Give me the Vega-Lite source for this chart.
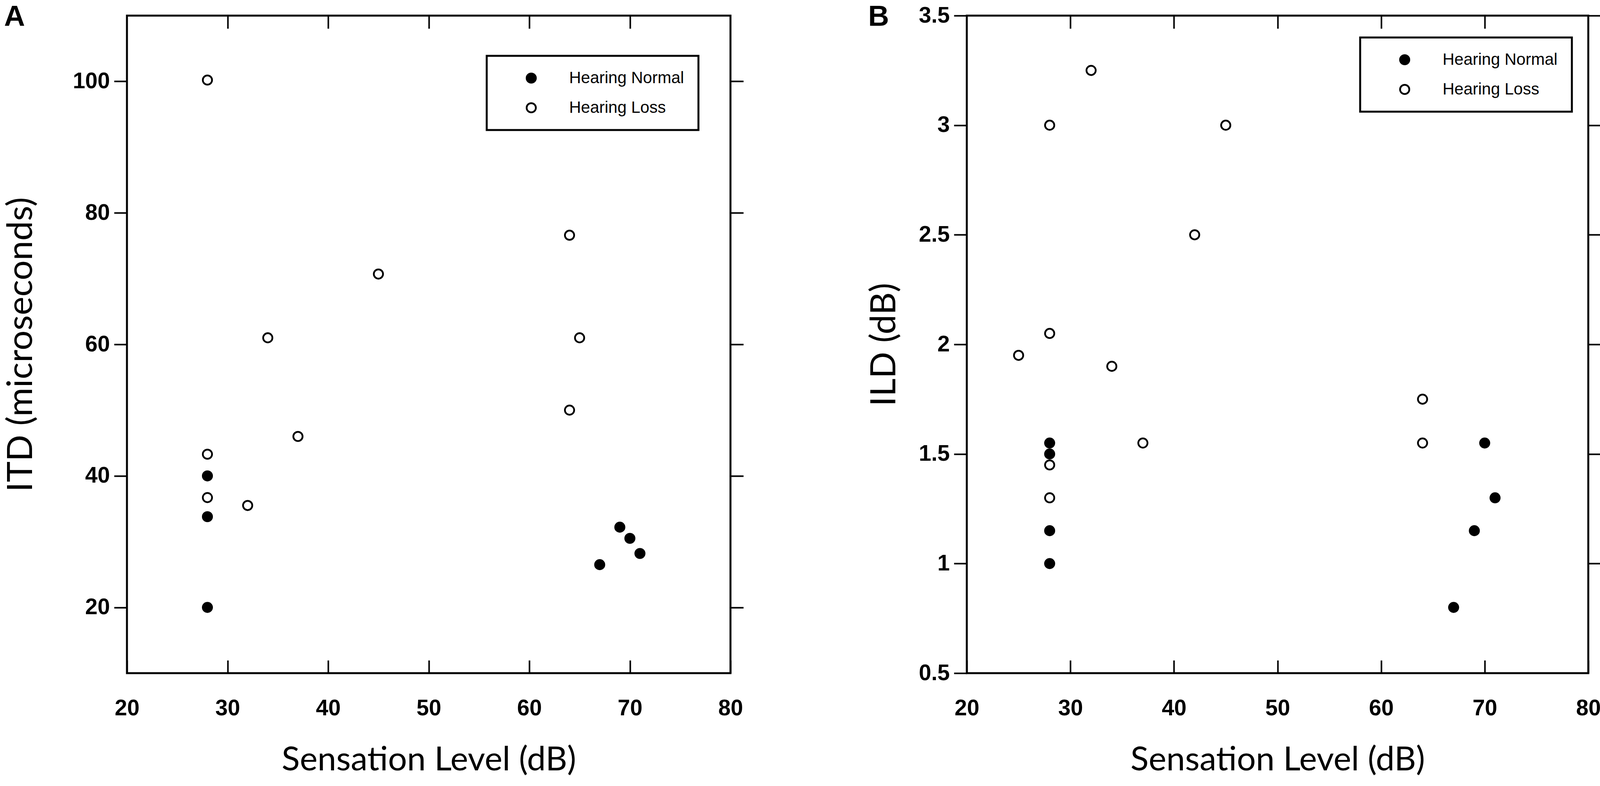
{
  "$schema": "https://vega.github.io/schema/vega-lite/v6.json",
  "padding": {"left": 7, "top": 3, "right": 0, "bottom": 0},
  "background": "white",
  "datasets": {
    "itd": [
      {"level": 28, "value": 100.2, "group": "Hearing Loss"},
      {"level": 64, "value": 76.6, "group": "Hearing Loss"},
      {"level": 45, "value": 70.7, "group": "Hearing Loss"},
      {"level": 34, "value": 61, "group": "Hearing Loss"},
      {"level": 65, "value": 61, "group": "Hearing Loss"},
      {"level": 64, "value": 50, "group": "Hearing Loss"},
      {"level": 37, "value": 46, "group": "Hearing Loss"},
      {"level": 28, "value": 43.3, "group": "Hearing Loss"},
      {"level": 28, "value": 36.7, "group": "Hearing Loss"},
      {"level": 32, "value": 35.5, "group": "Hearing Loss"},
      {"level": 28, "value": 40, "group": "Hearing Normal"},
      {"level": 28, "value": 33.8, "group": "Hearing Normal"},
      {"level": 28, "value": 20, "group": "Hearing Normal"},
      {"level": 69, "value": 32.2, "group": "Hearing Normal"},
      {"level": 70, "value": 30.5, "group": "Hearing Normal"},
      {"level": 71, "value": 28.2, "group": "Hearing Normal"},
      {"level": 67, "value": 26.5, "group": "Hearing Normal"}
    ],
    "ild": [
      {"level": 32, "value": 3.25, "group": "Hearing Loss"},
      {"level": 28, "value": 3.0, "group": "Hearing Loss"},
      {"level": 45, "value": 3.0, "group": "Hearing Loss"},
      {"level": 42, "value": 2.5, "group": "Hearing Loss"},
      {"level": 28, "value": 2.05, "group": "Hearing Loss"},
      {"level": 25, "value": 1.95, "group": "Hearing Loss"},
      {"level": 34, "value": 1.9, "group": "Hearing Loss"},
      {"level": 64, "value": 1.75, "group": "Hearing Loss"},
      {"level": 37, "value": 1.55, "group": "Hearing Loss"},
      {"level": 64, "value": 1.55, "group": "Hearing Loss"},
      {"level": 28, "value": 1.45, "group": "Hearing Loss"},
      {"level": 28, "value": 1.3, "group": "Hearing Loss"},
      {"level": 28, "value": 1.55, "group": "Hearing Normal"},
      {"level": 28, "value": 1.5, "group": "Hearing Normal"},
      {"level": 28, "value": 1.15, "group": "Hearing Normal"},
      {"level": 28, "value": 1.0, "group": "Hearing Normal"},
      {"level": 70, "value": 1.55, "group": "Hearing Normal"},
      {"level": 71, "value": 1.3, "group": "Hearing Normal"},
      {"level": 69, "value": 1.15, "group": "Hearing Normal"},
      {"level": 67, "value": 0.8, "group": "Hearing Normal"}
    ]
  },
  "hconcat": [
    {
      "width": 1545,
      "height": 1684,
      "data": {"name": "itd"},
      "layer": [
        {
          "mark": {"type": "circle", "size": 560, "stroke": "black", "strokeWidth": 4.5, "opacity": 1},
          "encoding": {
            "x": {
              "field": "level", "type": "quantitative",
              "scale": {"domain": [20, 80], "nice": false, "zero": false},
              "axis": {"orient": "bottom", "values": [20, 30, 40, 50, 60, 70, 80], "tickSize": -33, "labelPadding": 95, "title": "Sensation Level (dB)", "titlePadding": 62}
            },
            "y": {
              "field": "value", "type": "quantitative",
              "scale": {"domain": [10, 110], "nice": false, "zero": false},
              "axis": {"orient": "left", "values": [20, 40, 60, 80, 100], "tickSize": 33, "labelPadding": 11, "title": "ITD (microseconds)", "titleFontSize": 90, "titlePadding": 85}
            },
            "fill": {
              "field": "group", "type": "nominal",
              "scale": {"domain": ["Hearing Normal", "Hearing Loss"], "range": ["black", "white"]},
              "legend": {"orient": "none", "legendX": 921, "legendY": 103, "title": null}
            }
          }
        },
        {
          "mark": {"type": "circle", "opacity": 0},
          "encoding": {
            "x": {
              "field": "level", "type": "quantitative",
              "scale": {"domain": [20, 80], "nice": false, "zero": false},
              "axis": {"orient": "top", "values": [30, 40, 50, 60, 70], "tickSize": -33, "labels": false, "title": "A", "titleX": -315, "titleY": 25}
            },
            "y": {
              "field": "value", "type": "quantitative",
              "scale": {"domain": [10, 110], "nice": false, "zero": false},
              "axis": {"orient": "right", "values": [20, 40, 60, 80, 100], "tickSize": 33, "labels": false, "title": null}
            }
          }
        }
      ],
      "resolve": {"axis": {"x": "independent", "y": "independent"}}
    },
    {
      "width": 1591,
      "height": 1684,
      "data": {"name": "ild"},
      "layer": [
        {
          "mark": {"type": "circle", "size": 560, "stroke": "black", "strokeWidth": 4.5, "opacity": 1},
          "encoding": {
            "x": {
              "field": "level", "type": "quantitative",
              "scale": {"domain": [20, 80], "nice": false, "zero": false},
              "axis": {"orient": "bottom", "values": [20, 30, 40, 50, 60, 70, 80], "tickSize": -33, "labelPadding": 95, "title": "Sensation Level (dB)", "titlePadding": 62}
            },
            "y": {
              "field": "value", "type": "quantitative",
              "scale": {"domain": [0.5, 3.5], "nice": false, "zero": false},
              "axis": {"orient": "left", "values": [0.5, 1, 1.5, 2, 2.5, 3, 3.5], "format": "~g", "tickSize": 33, "labelPadding": 11, "title": "ILD (dB)", "titleFontSize": 90, "titlePadding": 41}
            },
            "fill": {
              "field": "group", "type": "nominal",
              "scale": {"domain": ["Hearing Normal", "Hearing Loss"], "range": ["black", "white"]},
              "legend": {"orient": "none", "legendX": 1007, "legendY": 56, "title": null}
            }
          }
        },
        {
          "mark": {"type": "circle", "opacity": 0},
          "encoding": {
            "x": {
              "field": "level", "type": "quantitative",
              "scale": {"domain": [20, 80], "nice": false, "zero": false},
              "axis": {"orient": "top", "values": [30, 40, 50, 60, 70], "tickSize": -33, "labels": false, "title": "B", "titleX": -253, "titleY": 25}
            },
            "y": {
              "field": "value", "type": "quantitative",
              "scale": {"domain": [0.5, 3.5], "nice": false, "zero": false},
              "axis": {"orient": "right", "values": [1, 1.5, 2, 2.5, 3, 3.5], "tickSize": 33, "labels": false, "title": null}
            }
          }
        }
      ],
      "resolve": {"axis": {"x": "independent", "y": "independent"}}
    }
  ],
  "spacing": 309,
  "resolve": {"scale": {"fill": "independent"}, "legend": {"fill": "independent"}},
  "config": {
    "view": {"stroke": "black", "strokeWidth": 5},
    "axis": {
      "domain": false,
      "grid": false,
      "ticks": true,
      "tickColor": "black",
      "tickWidth": 4,
      "labelFont": "Liberation Sans",
      "labelFontWeight": "bold",
      "labelFontSize": 57,
      "labelColor": "black",
      "labelOverlap": false,
      "labelFlush": false,
      "titleFont": "Lato",
      "titleFontWeight": "normal",
      "titleFontSize": 86,
      "titleColor": "black"
    },
    "axisTop": {
      "titleFont": "Liberation Sans",
      "titleFontWeight": "bold",
      "titleFontSize": 74,
      "titleAlign": "left",
      "titleBaseline": "alphabetic",
      "titleAngle": 0
    },
    "legend": {
      "strokeColor": "black",
      "strokeWidth": 5,
      "fillColor": "white",
      "padding": 36,
      "rowPadding": 34,
      "symbolType": "circle",
      "symbolSize": 560,
      "symbolStrokeColor": "black",
      "symbolStrokeWidth": 4.5,
      "symbolOpacity": 1,
      "symbolOffset": 57,
      "labelOffset": 76,
      "labelFont": "Liberation Sans",
      "labelFontSize": 42,
      "labelColor": "black",
      "labelLimit": 1000
    }
  }
}
